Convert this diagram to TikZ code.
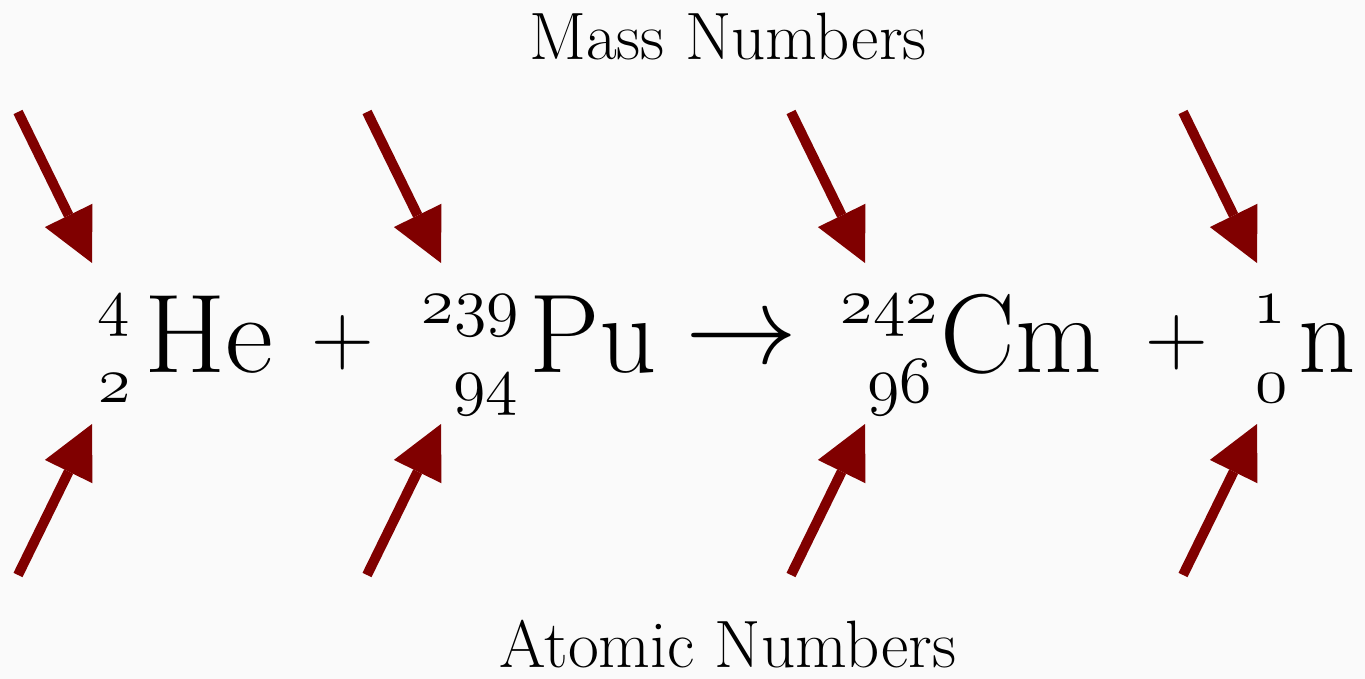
\RequirePackage{fix-cm}
\documentclass[tikz,border=0pt]{standalone}
\usetikzlibrary{arrows.meta}
\definecolor{bgc}{RGB}{250,250,250}
\definecolor{arr}{RGB}{128,0,0}
\newcommand\osn[1]{{\usefont{OML}{cmm}{m}{it}#1}}
\tikzset{
  elem/.style={inner sep=0pt, anchor=base west, font=\fontsize{112}{116}\selectfont},
  isonum/.style={inner sep=0pt, anchor=base east, font=\fontsize{66}{66}\selectfont},
  opsym/.style={inner sep=0pt, anchor=center},
  captext/.style={inner sep=0pt, anchor=base, font=\fontsize{67}{70}\selectfont},
  pointer/.style={draw=arr, line width=10pt, line cap=butt,
    -{Triangle[length=53pt,width=53pt,line width=0pt]}}
}
\begin{document}
\begin{tikzpicture}[x=1pt,y=-1pt]
\fill[bgc] (0,0) rectangle (1365,679);
\useasboundingbox (0,0) rectangle (1365,679);

% captions
\node[captext] (mass) at (728,60) {Mass Numbers};
\node[captext] (atomic) at (728,667) {Atomic Numbers};

% equation
\node[isonum] (a1) at (130,323) {\osn{4}};
\node[isonum] (z1) at (131,402) {\osn{2}};
\node[elem] (he) at (144,372) {\scalebox{1.05}[1]{He}};
\node[opsym, font=\fontsize{87}{90}\selectfont] (p1) at (343,343) {$+$};
\node[isonum] (a2) at (519,323) {\osn{239}};
\node[isonum] (z2) at (518,402) {\osn{94}};
\node[elem] (pu) at (529,372) {Pu};
\node[opsym, font=\fontsize{112}{115}\selectfont] (ar) at (741,343) {$\rightarrow$};
\node[isonum] (a3) at (938,323) {\osn{242}};
\node[isonum] (z3) at (932,402) {\osn{96}};
\node[elem] (cm) at (940,372) {Cm};
\node[opsym, font=\fontsize{87}{90}\selectfont] (p2) at (1177,343) {$+$};
\node[isonum] (a4) at (1286,323) {\osn{1}};
\node[isonum] (z4) at (1288,402) {\osn{0}};
\node[elem] (nn) at (1298,372) {n};

% arrow ends
\coordinate (t1) at (18,112);   \coordinate (h1) at (92,263);
\coordinate (t2) at (367,112);  \coordinate (h2) at (441,263);
\coordinate (t3) at (791,112);  \coordinate (h3) at (865,263);
\coordinate (t4) at (1183,112); \coordinate (h4) at (1257,263);
\coordinate (b1) at (18,575);   \coordinate (g1) at (92,424);
\coordinate (b2) at (367,575);  \coordinate (g2) at (441,424);
\coordinate (b3) at (791,575);  \coordinate (g3) at (865,424);
\coordinate (b4) at (1183,575); \coordinate (g4) at (1257,424);

\foreach \i in {1,2,3,4} {
  \draw[pointer] (t\i) -- (h\i);
  \draw[pointer] (b\i) -- (g\i);
}
\end{tikzpicture}
\end{document}
